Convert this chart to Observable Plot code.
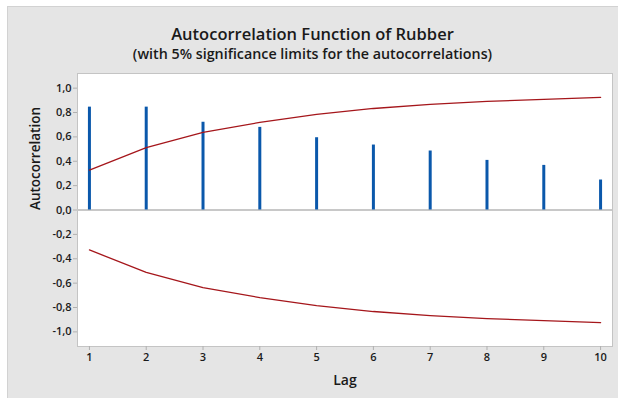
<!DOCTYPE html>
<html>
<head>
<meta charset="utf-8">
<script src="https://cdn.jsdelivr.net/npm/d3@7"></script>
<script src="https://cdn.jsdelivr.net/npm/@observablehq/plot@0.6"></script>
<style>
  html, body { margin: 0; padding: 0; background: #ffffff; }
  #panel {
    position: absolute; left: 7px; top: 6px; width: 611px; height: 392px;
    background: #e5e5e5; box-shadow: inset 1px 1px 0 #d2d2d2;
    font-family: "Open Sans", sans-serif; color: #1a1a1a;
  }
  #title { position: absolute; left: 0; width: 611px; top: 18px; text-align: center;
    font-size: 16.5px; font-weight: 600; line-height: 20px; }
  #subtitle { position: absolute; left: 0; width: 611px; top: 38.5px; text-align: center;
    font-size: 14.3px; font-weight: 600; line-height: 18px; }
  #chart { position: absolute; left: 0; top: 58px; line-height: 0; }
  #chart svg { display: block; }
</style>
</head>
<body>
<div id="panel">
  <div id="title">Autocorrelation Function of Rubber</div>
  <div id="subtitle">(with 5% significance limits for the autocorrelations)</div>
  <div id="chart"></div>
</div>
<script>
const lags = [1, 2, 3, 4, 5, 6, 7, 8, 9, 10];
const acf = [0.844, 0.844, 0.72, 0.678, 0.593, 0.533, 0.484, 0.407, 0.366, 0.246];
const upperLimit = [0.328, 0.511, 0.637, 0.719, 0.784, 0.833, 0.866, 0.891, 0.907, 0.924];
const yTicks = [-1.0, -0.8, -0.6, -0.4, -0.2, 0.0, 0.2, 0.4, 0.6, 0.8, 1.0];

const bars = lags.map((lag, i) => ({lag, r: acf[i]}));
const upper = lags.map((lag, i) => ({lag, v: upperLimit[i]}));
const lower = lags.map((lag, i) => ({lag, v: -upperLimit[i]}));

const fmt = d => d.toFixed(1).replace(".", ",");

const chart = Plot.plot({
  width: 611,
  height: 334,
  marginLeft: 70,
  marginRight: 6,
  marginTop: 9,
  marginBottom: 52,
  style: {fontFamily: "Open Sans, sans-serif", fontSize: "11px", fontWeight: 600, color: "#1a1a1a", background: "transparent"},
  x: {domain: [0.79, 10.21], ticks: lags, tickFormat: d => String(d), tickSize: 4, tickPadding: 3, label: null},
  y: {domain: [-1.12, 1.12], ticks: yTicks, tickFormat: fmt, tickSize: 4, tickPadding: 2, label: null},
  marks: [
    Plot.frame({fill: "white", stroke: "#c4c4c4"}),
    Plot.ruleY([0], {stroke: "#c8c8c8", strokeWidth: 2}),
    Plot.ruleX(bars, {x: "lag", y1: 0, y2: "r", stroke: "#0a58ab", strokeWidth: 3}),
    Plot.line(upper, {x: "lag", y: "v", stroke: "#a5161b", strokeWidth: 1.3}),
    Plot.line(lower, {x: "lag", y: "v", stroke: "#a5161b", strokeWidth: 1.3}),
    Plot.axisX({ticks: lags, tickFormat: d => String(d), tickSize: 4, tickPadding: 3, stroke: "#b0b0b0", label: null}),
    Plot.axisY({ticks: yTicks, tickFormat: fmt, tickSize: 4, tickPadding: 2, stroke: "#b0b0b0", label: null}),
    Plot.text(["Lag"], {frameAnchor: "bottom", dy: 38, fontSize: 14, fontWeight: 600, fill: "#1a1a1a"}),
    Plot.text(["Autocorrelation"], {frameAnchor: "left", dx: -42, rotate: -90, fontSize: 13.5, fontWeight: 600, fill: "#1a1a1a"})
  ]
});
document.getElementById("chart").appendChild(chart);
</script>
</body>
</html>
